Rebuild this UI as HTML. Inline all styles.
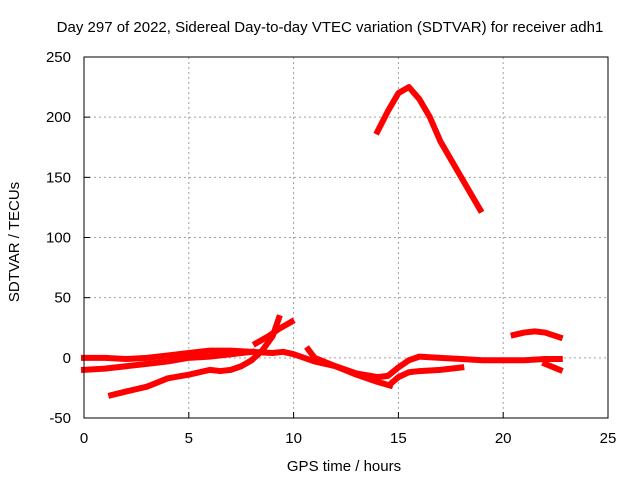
<!DOCTYPE html>
<html><head><meta charset="utf-8"><style>
body{margin:0;background:#fff}
svg{display:block;font-family:"Liberation Sans",sans-serif;font-size:15px}
</style></head><body>
<svg id="chart" width="640" height="480">
<text x="330" y="32" text-anchor="middle">Day 297 of 2022, Sidereal Day-to-day VTEC variation (SDTVAR) for receiver adh1</text>
<g id="grid"></g>
<g id="axes"></g>
<g id="series"></g>
<rect x="84" y="57" width="524" height="361" fill="none" stroke="#000" stroke-width="1"/>
<text x="344" y="471" text-anchor="middle">GPS time / hours</text>
<text transform="translate(19,242) rotate(-90)" text-anchor="middle">SDTVAR / TECUs</text>
</svg>
<script>
const xTicks=[0,5,10,15,20,25];
const yTicks=[-50,0,50,100,150,200,250];
const sA_h=[0,1,2,3,4,5,6,7,8,9,9.5,10,11,12,13,14,14.5,15,15.5,16,17,18,19,20,21,22,22.7];
const sA_v=[0,0,-1,0,2,4,6,6,5,4,5,3,-3,-7,-13,-16,-15,-8,-2,1,0,-1,-2,-2,-2,-1,-1];
const sB_h=[0,1,2,3,4,5,6,7,8];
const sB_v=[-10,-9,-7,-5,-3,0,1,3,5];
const sC_h=[1.3,2,3,4,5,6,6.5,7,7.5,8,8.5,9,9.3];
const sC_v=[-31,-28,-24,-17,-14,-10,-11,-10,-7,-2,6,18,33];
const sD_h=[8.2,8.8,9.3,9.9];
const sD_v=[12,18,24,30];
const sE_h=[10.7,11,12,13,14,14.6];
const sE_v=[7,0,-7,-14,-20,-23];
const sF_h=[14.6,15,15.5,16,17,18];
const sF_v=[-22,-16,-12,-11,-10,-8];
const sG_h=[14,14.5,15,15.5,16,16.5,17,18,18.9];
const sG_v=[188,205,220,225,215,200,180,150,123];
const sH_h=[20.5,21,21.5,22,22.7];
const sH_v=[19,21,22,21,17];
const sI_h=[22,22.7];
const sI_v=[-5,-10];
const X=h=>84+h*(524/25), Y=v=>418-(v+50)*(361/300);
const NS="http://www.w3.org/2000/svg";
const mk=(t,a,p)=>{const e=document.createElementNS(NS,t);for(const k in a)e.setAttribute(k,a[k]);p.appendChild(e);return e;};
const grid=document.getElementById('grid'),axes=document.getElementById('axes'),ser=document.getElementById('series');
xTicks.forEach(t=>{
 if(t>0&&t<25){const l=mk('line',{x1:X(t),x2:X(t),y1:57,y2:418,stroke:'#a0a0a0','stroke-dasharray':'2,3'},grid);
 
 }
 const tk=mk('line',{x1:X(t),x2:X(t),y1:418,y2:412,stroke:'#000'},axes);
 
 
 const tx=mk('text',{x:X(t),y:443,'text-anchor':'middle'},axes);tx.textContent=t;
 
 
});
yTicks.forEach(t=>{
 if(t>-50&&t<250){const l=mk('line',{x1:84,x2:608,y1:Y(t),y2:Y(t),stroke:'#a0a0a0','stroke-dasharray':'2,3'},grid);
 
 }
 const tk=mk('line',{x1:84,x2:90,y1:Y(t),y2:Y(t),stroke:'#000'},axes);
 
 
 const tx=mk('text',{x:71,y:Y(t)+5,'text-anchor':'end'},axes);tx.textContent=t;
 
 
});
[[sA_h,sA_v],[sB_h,sB_v],[sC_h,sC_v],[sD_h,sD_v],[sE_h,sE_v],[sF_h,sF_v],[sG_h,sG_v],[sH_h,sH_v],[sI_h,sI_v]].forEach((s,i)=>{
 const pts=s[0].map((h,j)=>X(h)+','+Y(s[1][j])).join(' ');
 const p=mk('polyline',{points:pts,fill:'none',stroke:'#ff0000','stroke-width':6,'stroke-linejoin':'round','stroke-linecap':'square'},ser);
 
 
});
</script>
</body></html>
